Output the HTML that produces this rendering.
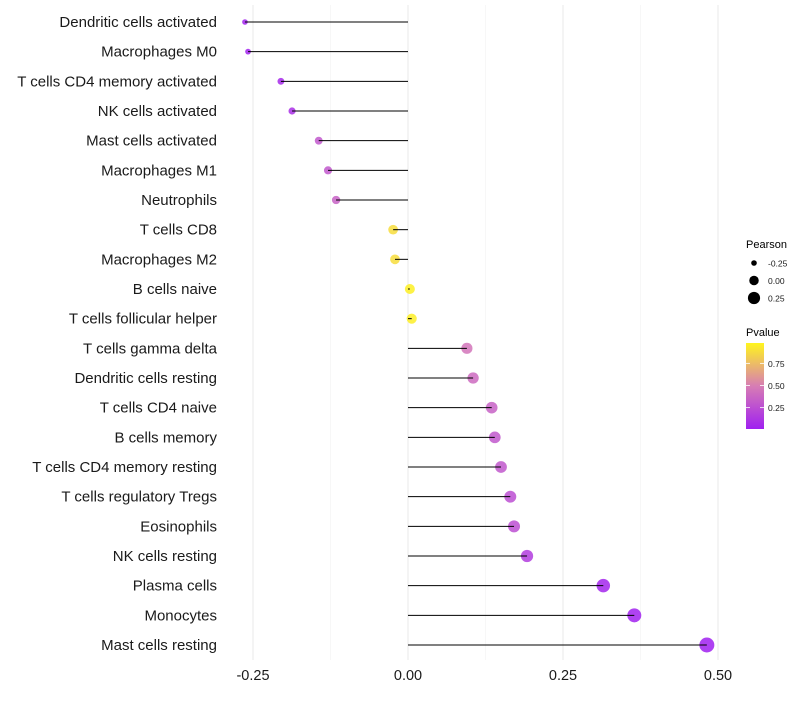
<!DOCTYPE html>
<html><head><meta charset="utf-8"><style>
body{margin:0;background:#fff;font-family:"Liberation Sans",sans-serif}
svg text{font-family:"Liberation Sans",sans-serif}
</style></head><body>
<svg id="chart" width="800" height="700"></svg>
<script>
const categories=["Dendritic cells activated","Macrophages M0","T cells CD4 memory activated","NK cells activated","Mast cells activated","Macrophages M1","Neutrophils","T cells CD8","Macrophages M2","B cells naive","T cells follicular helper","T cells gamma delta","Dendritic cells resting","T cells CD4 naive","B cells memory","T cells CD4 memory resting","T cells regulatory  Tregs ","Eosinophils","NK cells resting","Plasma cells","Monocytes","Mast cells resting"];
const pearson=[-0.263,-0.258,-0.205,-0.187,-0.144,-0.129,-0.116,-0.024,-0.021,0.003,0.006,0.095,0.105,0.135,0.14,0.15,0.165,0.171,0.192,0.315,0.365,0.482];
const pvalue=[0.02,0.02,0.05,0.08,0.3,0.3,0.35,0.9,0.9,0.98,0.97,0.45,0.4,0.35,0.3,0.3,0.25,0.25,0.15,0.03,0.01,0.001];
const xTicks=[-0.25,0,0.25,0.5];
const xTickLabels=["-0.25","0.00","0.25","0.50"];
const minorTicks=[-0.125,0.125,0.375];
const sizeLegend=[-0.25,0,0.25];
const sizeLegendLabels=["-0.25","0.00","0.25"];
const pTicks=[0.25,0.5,0.75];

const NS="http://www.w3.org/2000/svg";
const svg=document.getElementById('chart');
function el(tag,attrs,parent){const e=document.createElementNS(NS,tag);for(const k in attrs)e.setAttribute(k,attrs[k]);(parent||svg).appendChild(e);return e;}
const x=v=>408+v*620;
const y=i=>22+i*(623/21);
const r=v=>Math.sqrt(Math.max(1,25+65*v));
function lerp(a,b,t){return a.map((c,i)=>Math.round(c+(b[i]-c)*t));}
function col(p){const s=[[160,32,240],[215,125,180],[255,245,30]];
 let c=p<0.5?lerp(s[0],s[1],p/0.5):lerp(s[1],s[2],(p-0.5)/0.5);return `rgb(${c.join(',')})`;}

const grid=el('g',{});

minorTicks.forEach(t=>el('line',{x1:x(t),x2:x(t),y1:5,y2:660,stroke:'#f2f2f2','stroke-width':0.6},grid));
xTicks.forEach(t=>el('line',{x1:x(t),x2:x(t),y1:5,y2:660,stroke:'#ebebeb','stroke-width':1.1},grid));

categories.forEach((c,i)=>{
 const lab=el('text',{x:217,y:y(i)+5,'text-anchor':'end','font-size':15,fill:'#1a1a1a'});
 lab.textContent=c;
 
 
 const pt=el('circle',{cx:x(pearson[i]),cy:y(i),r:r(pearson[i]),fill:col(pvalue[i]),'fill-opacity':0.85});
 
 
 const ln=el('line',{x1:x(0),x2:x(pearson[i]),y1:y(i),y2:y(i),stroke:'#000','stroke-width':1});
 
 
});
xTicks.forEach((t,i)=>{const tl=el('text',{x:x(t),y:680,'text-anchor':'middle','font-size':14.5,fill:'#1a1a1a'});tl.textContent=xTickLabels[i];
 
 });

const lg=el('g',{});

el('text',{x:746,y:248,'font-size':11,fill:'#000'},lg).textContent='Pearson';
sizeLegend.forEach((v,i)=>{const cy=263+i*17.5;
 el('circle',{cx:754,cy:cy,r:r(v)*0.95,fill:'#000'},lg);
 el('text',{x:768,y:cy+3.5,'font-size':8.5,fill:'#1a1a1a'},lg).textContent=sizeLegendLabels[i];});
el('text',{x:746,y:336,'font-size':11,fill:'#000'},lg).textContent='Pvalue';
const defs=el('defs',{});
const gr=el('linearGradient',{id:'pg',x1:0,y1:1,x2:0,y2:0},defs);
for(let k=0;k<=10;k++){el('stop',{offset:k/10,'stop-color':col(k/10)},gr);}
el('rect',{x:746,y:343,width:18,height:86,fill:'url(#pg)'},lg);
const py=p=>428-(p-0.02)/0.96*85;
pTicks.forEach(p=>{el('line',{x1:746,x2:750,y1:py(p),y2:py(p),stroke:'#fff','stroke-width':0.8},lg);
 el('line',{x1:760,x2:764,y1:py(p),y2:py(p),stroke:'#fff','stroke-width':0.8},lg);
 el('text',{x:768,y:py(p)+3.5,'font-size':8.5,fill:'#1a1a1a'},lg).textContent=p.toFixed(2);});
</script>
</body></html>
